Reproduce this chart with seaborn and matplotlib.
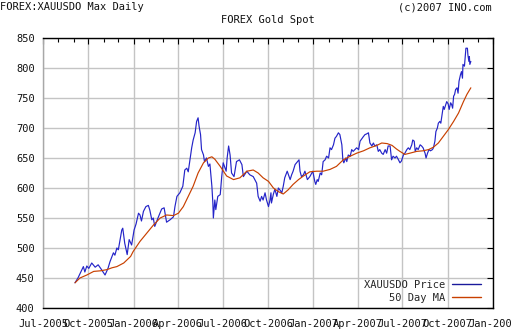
import matplotlib
matplotlib.use("Agg")
import matplotlib.pyplot as plt
import matplotlib.dates as mdates
import pandas as pd
import seaborn as sns

# ---- data ----
price_dates = [
    "2005-09-04", "2005-09-10", "2005-09-18", "2005-09-21", "2005-09-24", "2005-09-28",
    "2005-10-02", "2005-10-08", "2005-10-15", "2005-10-21", "2005-10-27", "2005-11-04",
    "2005-11-10", "2005-11-14", "2005-11-21", "2005-11-24", "2005-11-28", "2005-12-01",
    "2005-12-08", "2005-12-10", "2005-12-14", "2005-12-19", "2005-12-23", "2005-12-28",
    "2006-01-02", "2006-01-06", "2006-01-11", "2006-01-14", "2006-01-17", "2006-01-21",
    "2006-01-26", "2006-01-31", "2006-02-03", "2006-02-07", "2006-02-10", "2006-02-13",
    "2006-02-20", "2006-02-27", "2006-03-04", "2006-03-09", "2006-03-16", "2006-03-23",
    "2006-03-26", "2006-03-30", "2006-04-05", "2006-04-11", "2006-04-15", "2006-04-19",
    "2006-04-22", "2006-04-26", "2006-04-29", "2006-05-02", "2006-05-06", "2006-05-09",
    "2006-05-12", "2006-05-14", "2006-05-17", "2006-05-19", "2006-05-23", "2006-05-25",
    "2006-05-29", "2006-06-02", "2006-06-05", "2006-06-09", "2006-06-11", "2006-06-12",
    "2006-06-15", "2006-06-17", "2006-06-21", "2006-06-26", "2006-06-29", "2006-07-02",
    "2006-07-08", "2006-07-10", "2006-07-13", "2006-07-16", "2006-07-19", "2006-07-24",
    "2006-07-29", "2006-08-04", "2006-08-09", "2006-08-12", "2006-08-19", "2006-08-25",
    "2006-09-01", "2006-09-08", "2006-09-11", "2006-09-15", "2006-09-18", "2006-09-21",
    "2006-09-25", "2006-09-28", "2006-10-02", "2006-10-05", "2006-10-07", "2006-10-08",
    "2006-10-12", "2006-10-15", "2006-10-19", "2006-10-22", "2006-10-25", "2006-10-29",
    "2006-11-01", "2006-11-04", "2006-11-09", "2006-11-15", "2006-11-18", "2006-11-21",
    "2006-11-25", "2006-11-30", "2006-12-03", "2006-12-05", "2006-12-08", "2006-12-12",
    "2006-12-15", "2006-12-20", "2006-12-25", "2006-12-31", "2007-01-04", "2007-01-06",
    "2007-01-09", "2007-01-11", "2007-01-15", "2007-01-18", "2007-01-21", "2007-01-25",
    "2007-01-28", "2007-02-01", "2007-02-04", "2007-02-07", "2007-02-11", "2007-02-14",
    "2007-02-17", "2007-02-21", "2007-02-24", "2007-02-28", "2007-03-02", "2007-03-04",
    "2007-03-08", "2007-03-10", "2007-03-13", "2007-03-17", "2007-03-20", "2007-03-23",
    "2007-03-30", "2007-04-03", "2007-04-06", "2007-04-13", "2007-04-16", "2007-04-19",
    "2007-04-23", "2007-04-26", "2007-04-30", "2007-05-03", "2007-05-06", "2007-05-10",
    "2007-05-13", "2007-05-16", "2007-05-20", "2007-05-23", "2007-05-27", "2007-05-30",
    "2007-06-02", "2007-06-06", "2007-06-09", "2007-06-12", "2007-06-16", "2007-06-19",
    "2007-06-23", "2007-06-26", "2007-06-29", "2007-07-03", "2007-07-06", "2007-07-10",
    "2007-07-13", "2007-07-16", "2007-07-20", "2007-07-22", "2007-07-25", "2007-07-27",
    "2007-07-30", "2007-08-02", "2007-08-06", "2007-08-09", "2007-08-12", "2007-08-16",
    "2007-08-18", "2007-08-21", "2007-08-24", "2007-08-27", "2007-08-31", "2007-09-02",
    "2007-09-05", "2007-09-07", "2007-09-10", "2007-09-12", "2007-09-15", "2007-09-17",
    "2007-09-20", "2007-09-22", "2007-09-24", "2007-09-27", "2007-09-29", "2007-10-02",
    "2007-10-04", "2007-10-07", "2007-10-09", "2007-10-11", "2007-10-13", "2007-10-15",
    "2007-10-17", "2007-10-20", "2007-10-22", "2007-10-24", "2007-10-27", "2007-10-29",
    "2007-10-31", "2007-11-01", "2007-11-04", "2007-11-06", "2007-11-07", "2007-11-10",
    "2007-11-11", "2007-11-13", "2007-11-14", "2007-11-15", "2007-11-17",
]
price_values = [
    442, 450, 464, 469, 460, 470,
    466, 475, 468, 472, 465, 455,
    466, 477, 492, 488, 500, 497,
    530, 533, 508, 489, 514, 505,
    530, 540, 558, 555, 545, 561,
    569, 571, 563, 547, 550, 536,
    551, 565, 567, 543, 547, 552,
    569, 586, 592, 603, 630, 633,
    627, 650, 667, 680, 692, 711,
    717, 703, 689, 664, 655, 644,
    650, 636, 640, 603, 575, 550,
    580, 564, 586, 589, 619, 642,
    628, 650, 670, 655, 625, 619,
    644, 647, 639, 619, 628, 622,
    619, 608, 586, 578, 586, 580,
    592, 580, 569, 580, 592, 575,
    590, 598, 586, 600, 597, 592,
    603, 617, 628, 614, 622, 628,
    639, 644, 647, 628, 619, 622,
    628, 614, 619, 628, 611, 606,
    614, 611, 625, 622, 644, 647,
    653, 650, 667, 664, 672, 683,
    686, 692, 689, 672, 647, 642,
    650, 644, 655, 653, 664, 661,
    667, 664, 678, 686, 689, 690,
    692, 675, 670, 675, 670, 672,
    661, 664, 658, 656, 664, 658,
    670, 670, 647, 653, 650, 653,
    647, 642, 645, 655, 658, 664,
    667, 664, 672, 680, 678, 661,
    667, 664, 672, 670, 667, 658,
    650, 658, 664, 662, 664, 667,
    678, 694, 700, 708, 711, 708,
    725, 736, 731, 739, 744, 740,
    731, 742, 739, 733, 753, 756,
    764, 767, 758, 778, 789, 794,
    783, 806, 803, 822, 833, 833,
    822, 811, 819, 806, 811,
]

ma_dates = [
    "2005-09-04", "2005-09-14", "2005-09-28", "2005-10-12", "2005-10-26", "2005-11-08",
    "2005-11-18", "2005-11-28", "2005-12-12", "2005-12-26", "2005-12-31", "2006-01-14",
    "2006-01-28", "2006-02-10", "2006-02-24", "2006-03-09", "2006-03-23", "2006-04-02",
    "2006-04-12", "2006-04-22", "2006-05-02", "2006-05-12", "2006-05-23", "2006-06-02",
    "2006-06-09", "2006-06-15", "2006-06-26", "2006-07-09", "2006-07-23", "2006-08-05",
    "2006-08-19", "2006-09-01", "2006-09-11", "2006-09-21", "2006-10-02", "2006-10-12",
    "2006-10-22", "2006-11-01", "2006-11-11", "2006-11-21", "2006-12-02", "2006-12-12",
    "2006-12-25", "2007-01-08", "2007-01-21", "2007-02-04", "2007-02-17", "2007-03-03",
    "2007-03-17", "2007-03-30", "2007-04-13", "2007-04-26", "2007-05-10", "2007-05-20",
    "2007-05-31", "2007-06-10", "2007-06-19", "2007-06-26", "2007-07-06", "2007-07-16",
    "2007-07-30", "2007-08-12", "2007-08-23", "2007-09-02", "2007-09-12", "2007-09-22",
    "2007-10-02", "2007-10-13", "2007-10-23", "2007-11-02", "2007-11-09", "2007-11-17",
]
ma_values = [
    442, 450, 455, 461, 462, 464,
    467, 469, 475, 486, 494, 511,
    525, 538, 550, 555, 554, 558,
    569, 586, 603, 625, 642, 650,
    652, 648, 636, 620, 614, 617,
    628, 630, 625, 617, 611, 600,
    594, 590, 597, 606, 614, 620,
    627, 628, 628, 631, 636, 647,
    653, 658, 662, 667, 671, 675,
    674, 671, 665, 661, 656, 658,
    661, 662, 664, 668, 675, 686,
    697, 711, 725, 744, 756, 767,
]

y_ticks = [400, 450, 500, 550, 600, 650, 700, 750, 800, 850]
x_start, x_end = "2005-07-01", "2008-01-01"
series_labels = ["XAUUSDO Price", "50 Day MA"]
header_left = "FOREX:XAUUSDO Max Daily"
header_right = "(c)2007 INO.com"
title = "FOREX Gold Spot"

BLUE = "#2424c8"
ORANGE = "#c84000"
GRID = "#c4c4c4"

sns.set_style("white")
plt.rcParams["font.family"] = ["DejaVu Sans Mono", "DejaVu Sans"]
plt.rcParams["font.size"] = 7.5

fig = plt.figure(figsize=(5.12, 3.36), dpi=100)
ax = fig.add_axes([43 / 512, 1 - 308 / 336, 450 / 512, 270 / 336])

price_df = pd.DataFrame({"date": pd.to_datetime(price_dates), "value": price_values})
ma_df = pd.DataFrame({"date": pd.to_datetime(ma_dates), "value": ma_values})

sns.lineplot(data=price_df, x="date", y="value", ax=ax, color=BLUE, lw=0.85,
             label=series_labels[0], estimator=None)
sns.lineplot(data=ma_df, x="date", y="value", ax=ax, color=ORANGE, lw=0.85,
             label=series_labels[1], estimator=None)

ax.set_xlim(pd.Timestamp(x_start), pd.Timestamp(x_end))
ax.set_ylim(y_ticks[0], y_ticks[-1])
ax.set_yticks(y_ticks)
ax.set_xlabel("")
ax.set_ylabel("")

ax.xaxis.set_major_locator(mdates.MonthLocator(bymonth=[1, 4, 7, 10]))
ax.xaxis.set_major_formatter(mdates.DateFormatter("%b-%Y"))
ax.xaxis.set_minor_locator(mdates.MonthLocator())

ax.grid(True, which="major", color=GRID, lw=1.0)
ax.set_axisbelow(True)

ax.tick_params(which="both", direction="in", top=True, right=True,
               color="black", labelcolor="#111111", labelsize=7.5, width=0.8)
ax.tick_params(which="major", length=4)
ax.tick_params(which="minor", length=3)
ax.tick_params(axis="x", which="major", pad=8)
ax.tick_params(axis="y", which="major", pad=6)
for lbl in ax.get_xticklabels():
    lbl.set_ha("center")

for side in ["top", "right", "bottom"]:
    ax.spines[side].set_color("black")
    ax.spines[side].set_linewidth(1.0)
ax.spines["left"].set_color("#a8a8a8")
ax.spines["left"].set_linewidth(1.0)

leg = ax.legend(loc="lower right", bbox_to_anchor=(1 - 5 / 450, -2 / 270),
                frameon=False, markerfirst=False,
                handlelength=2.8, handletextpad=0.6, labelspacing=0.25,
                borderaxespad=0.3, fontsize=7.5)
leg.get_lines()[0].set_color("#1a1a9c")
for ln in leg.get_lines():
    ln.set_linewidth(1.0)

fig.text(0.0, 1 - 7 / 336, header_left, ha="left", va="center", fontsize=7.5, color="#111111")
fig.text(492 / 512, 1 - 7 / 336, header_right, ha="right", va="center", fontsize=7.5, color="#111111")
fig.text(268 / 512, 1 - 20 / 336, title, ha="center", va="center", fontsize=7.5, color="#111111")

fig.savefig("out.png", dpi=100, facecolor="white")
